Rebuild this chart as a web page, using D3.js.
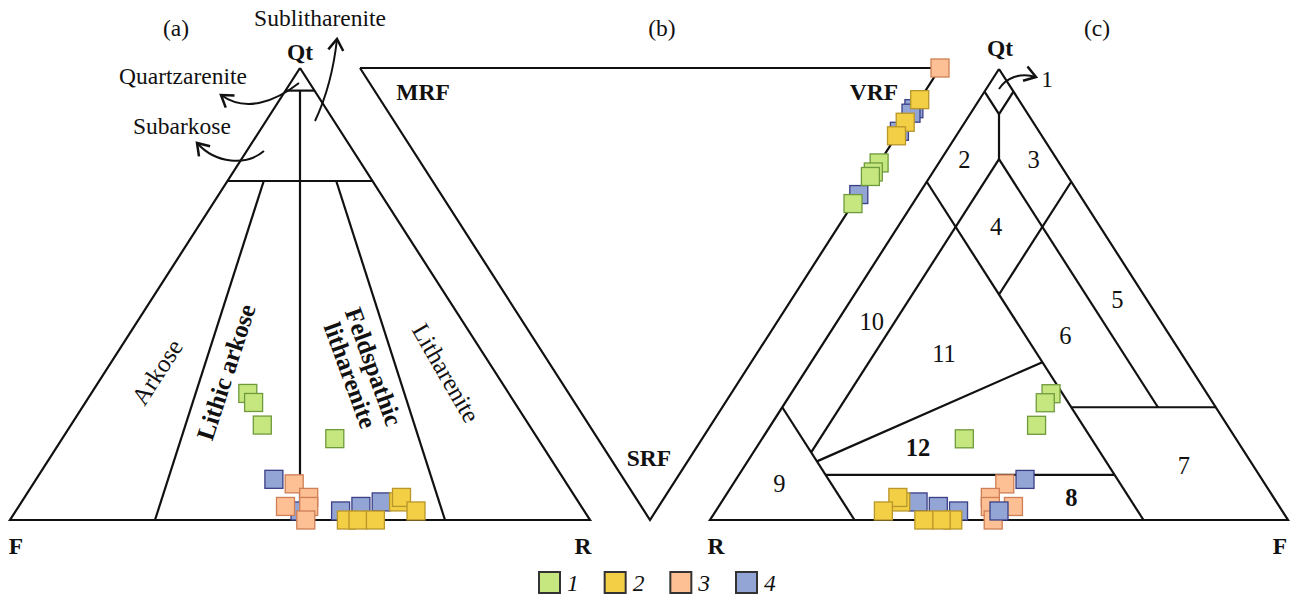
<!DOCTYPE html>
<html><head><meta charset="utf-8">
<script src="https://cdn.jsdelivr.net/npm/d3@7"></script>
<style>
body{margin:0;background:#fff;}
text{font-family:"Liberation Serif","Times New Roman",serif;fill:#111;}
</style></head><body>
<svg id="chart" width="1291" height="600"></svg>
<script>
// ---------------- DATA ----------------
const seriesNames = ["1","2","3","4"];
// Sandstone composition, % [Qt, F, R] — panels (a) and (c)
const qfr1 = [[28,45,27],[26,45,29],[21,46,33],[18,35,47]];
const qfr2 = [[0,42,58],[0,40,60],[0,37,63],[4,31,65],[5,30,65],[2,29,69]];
const qfr3 = [[8,47,45],[5,46,49],[3,47,50],[3,51,46],[0,49,51]];
const qfr4 = [[9,50,41],[2,49,49],[2,42,56],[3,38,59],[4,34,62]];
// Rock fragments, % [MRF, VRF, SRF] — panel (b)
const rf1 = [[0,79,21],[0,77,23],[0,76,24],[0,70,30]];
const rf2 = [[0,93,7],[0,88,12],[0,85,15]];
const rf3 = [[0,100,0]];
const rf4 = [[0,91,9],[0,90,10],[0,86,14],[0,72,28]];
// Classification boundaries, % [Qt, F, R]
const folkLines = [
  [[100,0,0],[0,100,0],[0,0,100],[100,0,0]],
  [[95,5,0],[95,0,5]],
  [[75,25,0],[75,0,25]],
  [[95,2.5,2.5],[0,50,50]],
  [[75,18.75,6.25],[0,75,25]],
  [[75,6.25,18.75],[0,25,75]]
];
const shutovLines = [
  [[100,0,0],[0,0,100],[0,100,0],[100,0,0]],
  [[95,0,5],[90,5,5],[95,5,0]],
  [[90,5,5],[80,10,10]],
  [[80,10,10],[15,10,75]],
  [[80,10,10],[25,65,10]],
  [[75,0,25],[0,75,25]],
  [[75,25,0],[50,25,25]],
  [[25,0,75],[0,25,75]],
  [[25,50,25],[25,75,0]],
  [[10,15,75],[10,65,25]],
  [[13,12,75],[35,40,25]]
];
// [MRF, VRF, SRF]
const rfLines = [[[100,0,0],[0,100,0],[0,0,100],[100,0,0]]];
// Shutov field labels: text, [Qt, F, R], bold
const fieldLabels = [
  ["2",[80,4,16],false],["3",[80,16,4],false],["4",[65,17,18],false],
  ["5",[49,46,5],false],["6",[41,41,18],false],["7",[12,76,12],false],
  ["8",[5,60,35],true],["9",[8,8,84],false],["10",[44,6,50],false],
  ["11",[37,22,41],false],["12",[16,28,56],true]
];

// ---------------- STYLE ----------------
const fills   = ["#c6e77f","#f3cf45","#fdbf94","#92a5d5"];
const strokes = ["#6f9a3c","#b8962a","#cf7f56","#3b3f86"];
const FS = 23.5;
const FR = 25;

const svg = d3.select("#chart");

function ternary(xr, yr) {
  const x = d3.scaleLinear().domain([0,1]).range(xr);
  const y = d3.scaleLinear().domain([0,1]).range(yr);
  return (top, right) => [x(right/100 + top/200), y(top/100)];
}
const pa = ternary([10,590],[520,68]);
const A = c => pa(c[0], c[2]);          // Qt top, F left, R right
const pc = ternary([710,1288],[520,69]);
const C = c => pc(c[0], c[1]);          // Qt top, R left, F right
const pb = ternary([360,940],[68,520]);
const B = c => pb(c[2], c[1]);          // MRF left, VRF right, SRF bottom

const line = d3.line();
function drawLines(g, lines, proj) {
  g.selectAll("path.b").data(lines).join("path")
    .attr("d", d => line(d.map(proj)))
    .attr("fill","none").attr("stroke","#111").attr("stroke-width",2.2)
    .attr("stroke-linejoin","miter");
}
function drawPoints(g, sets, order, proj) {
  const S = 18;
  order.forEach(i => {
    g.append("g").selectAll("rect").data(sets[i]).join("rect")
      .attr("x", d => proj(d)[0]-S/2).attr("y", d => proj(d)[1]-S/2)
      .attr("width",S).attr("height",S)
      .attr("fill",fills[i]).attr("stroke",strokes[i]).attr("stroke-width",1.3);
  });
}
function txt(x,y,s,opt={}) {
  const t = svg.append("text").attr("x",x).attr("y",y).text(s)
    .attr("text-anchor", opt.anchor||"middle")
    .attr("dominant-baseline","central")
    .attr("font-size", opt.size||FS);
  if (opt.bold) t.attr("font-weight","bold");
  if (opt.italic) t.attr("font-style","italic");
  if (opt.rot!=null) t.attr("transform",`rotate(${opt.rot},${x},${y})`);
  return t;
}

// marker
svg.append("defs").append("marker").attr("id","ah")
  .attr("markerUnits","userSpaceOnUse").attr("markerWidth",20).attr("markerHeight",20)
  .attr("viewBox","-12 -8 16 16").attr("refX",0).attr("refY",0).attr("orient","auto")
  .append("path").attr("d","M-9,-6 L0,0 L-9,6").attr("fill","none")
  .attr("stroke","#111").attr("stroke-width",2);

// ---------- Panel (a)
const ga = svg.append("g");
drawLines(ga, folkLines, A);
const qfrSets = [qfr1,qfr2,qfr3,qfr4];
drawPoints(ga, qfrSets, [0,3,2,1], A);
txt(176,28,"(a)");
txt(300,52,"Qt",{bold:true});
txt(16,546,"F",{bold:true});
txt(583,546,"R",{bold:true});
txt(320,18,"Sublitharenite");
txt(183,76,"Quartzarenite");
txt(182,126,"Subarkose");
txt(157,372,"Arkose",{rot:-57,size:FR});
txt(226,372,"Lithic arkose",{rot:-72,bold:true,size:FR});
const fl = svg.append("g").attr("transform","translate(362,371) rotate(70)");
fl.append("text").attr("y",-12.5).attr("text-anchor","middle").attr("dominant-baseline","central")
  .attr("font-size",FR).attr("font-weight","bold").text("Feldspathic");
fl.append("text").attr("y",12.5).attr("text-anchor","middle").attr("dominant-baseline","central")
  .attr("font-size",FR).attr("font-weight","bold").text("litharenite");
txt(446,373,"Litharenite",{rot:60,size:FR});
const arrows = [
  "M315,121 Q332,85 337,39",
  "M299,83 C276,101 246,113 221,95",
  "M264,151 C246,166 216,164 197,143",
  "M999,89 C1006,78 1020,72 1036,77"
];
svg.selectAll("path.arr").data(arrows).join("path").attr("class","arr")
  .attr("d",d=>d).attr("fill","none").attr("stroke","#111").attr("stroke-width",2)
  .attr("marker-end","url(#ah)");

// ---------- Panel (b)
const gb = svg.append("g");
drawLines(gb, rfLines, B);
drawPoints(gb, [rf1,rf2,rf3,rf4], [3,0,1,2], B);
txt(662,28,"(b)");
txt(423,92,"MRF",{bold:true});
txt(874,92,"VRF",{bold:true});
txt(649,458,"SRF",{bold:true});

// ---------- Panel (c)
const gc = svg.append("g");
drawLines(gc, shutovLines, C);
drawPoints(gc, qfrSets, [0,2,3,1], C);
txt(1097,28,"(c)");
txt(1000,48,"Qt",{bold:true});
txt(716,546,"R",{bold:true});
txt(1280,546,"F",{bold:true});
txt(1047,79,"1");
fieldLabels.forEach(([s,c,b]) => { const p = C(c); txt(p[0],p[1],s,{bold:b,size:FS+1}); });

// ---------- Legend
const lx = d3.scalePoint().domain(seriesNames).range([539,736]);
const lg = svg.append("g").selectAll("g").data(seriesNames).join("g")
  .attr("transform", d => `translate(${lx(d)},572)`);
lg.append("rect").attr("width",21).attr("height",21)
  .attr("fill",(d,i)=>fills[i]).attr("stroke","#333").attr("stroke-width",2);
lg.append("text").attr("x",28).attr("y",11).attr("dominant-baseline","central")
  .attr("font-size",FS).attr("font-style","italic").text(d=>d);
</script>
</body></html>
